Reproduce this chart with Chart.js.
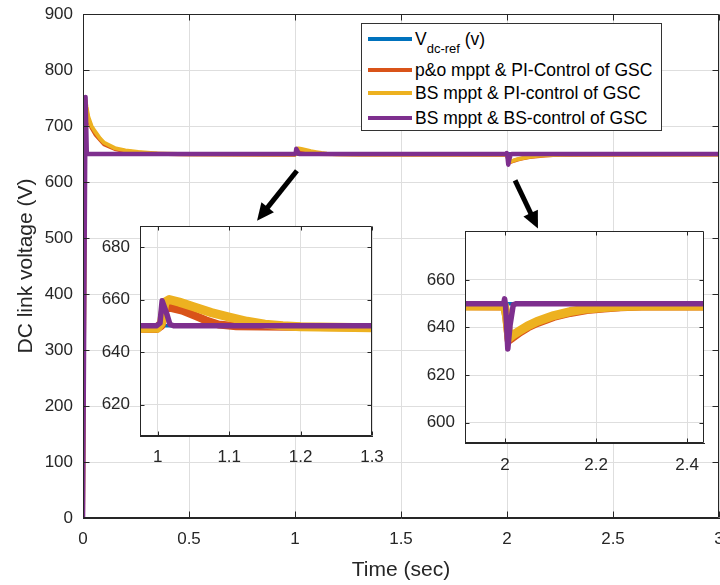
<!DOCTYPE html>
<html>
<head>
<meta charset="utf-8">
<title>DC link voltage</title>
<script src="https://cdn.jsdelivr.net/npm/chart.js@4.4.0/dist/chart.umd.min.js"></script>
<style>
  html, body { margin: 0; padding: 0; background: #fff; }
  #wrap { position: relative; width: 720px; height: 585px; overflow: hidden; font-family: "Liberation Sans", Arial, sans-serif; }
  #main { position: absolute; left: 0; top: 0; }
  #inset1 { position: absolute; left: 90px; top: 214px; }
  #inset2 { position: absolute; left: 415px; top: 219px; }
  #legend { position: absolute; left: 361px; top: 23px; width: 301px; height: 108px; box-sizing: border-box;
            border: 1px solid #333; background: #fff; color: #000; font-size: 17.5px; }
  #legend .swatch { position: absolute; left: 6px; width: 44px; height: 4px; }
  #legend .text { position: absolute; left: 53px; height: 20px; line-height: 20px; white-space: nowrap; }
  #legend .sub { font-size: 13px; position: relative; top: 8px; }
</style>
</head>
<body>
<div id="wrap">
  <canvas id="main" width="740" height="585"></canvas>
  <canvas id="inset1" width="296" height="258"></canvas>
  <canvas id="inset2" width="303" height="260"></canvas>
  <div id="legend">
    <div class="swatch" style="top:13px;background:#0072BD"></div>
    <div class="text" style="top:5px">V<span class="sub">dc-ref</span> (v)</div>
    <div class="swatch" style="top:44px;background:#D95319"></div>
    <div class="text" style="top:36px">p&amp;o mppt &amp; PI-Control of GSC</div>
    <div class="swatch" style="top:67px;background:#EDB120"></div>
    <div class="text" style="top:59px">BS mppt &amp; PI-control of GSC</div>
    <div class="swatch" style="top:92px;background:#7E2F8E"></div>
    <div class="text" style="top:84px">BS mppt &amp; BS-control of GSC</div>
  </div>
</div>
<script>
// series (time in sec, voltage in V)
const refTime = [0, 3];
const refVolt = [650, 650];

const poTime = [0, 0.011, 0.016, 0.025, 0.04, 0.06, 0.1, 0.15, 0.2, 0.3, 0.45,
  0.999, 1.005, 1.011, 1.015, 1.034, 1.053, 1.067, 1.085, 1.11, 1.3,
  1.999, 2.003, 2.008, 2.015, 2.033, 2.05, 2.07, 2.107, 2.143, 2.18, 2.217, 2.254, 2.3, 3];
const poVolt = [0, 745, 728, 712, 697, 684, 667, 659, 655, 651, 649.5,
  648.8, 650, 656.5, 657, 655.8, 653.7, 652.1, 650.5, 649.8, 649.3,
  648.8, 644, 634.5, 635.5, 638, 640, 641.8, 644.4, 646.1, 647.3, 648, 648.5, 648.8, 649];

const bsPiTime = [0, 0.011, 0.016, 0.025, 0.04, 0.055, 0.08, 0.1, 0.15, 0.2, 0.26, 0.35, 0.5,
  0.999, 1.005, 1.01, 1.016, 1.03, 1.05, 1.075, 1.1, 1.125, 1.15, 1.175, 1.2, 1.3,
  1.999, 2.003, 2.009, 2.015, 2.033, 2.05, 2.07, 2.107, 2.143, 2.18, 2.217, 2.254, 2.3, 3];
const bsPiVolt = [0, 748, 735, 716, 700, 691, 678, 670, 660.5, 656.5, 653.5, 651, 649.5,
  649, 651, 659, 660, 659, 657.2, 655, 653.3, 651.7, 650.6, 650, 649.6, 649.2,
  649, 645, 635.5, 636.5, 638.7, 640.7, 642.5, 645, 646.7, 647.8, 648.4, 648.8, 649, 649.2];

const bsBsTime = [0, 0.012, 0.018, 0.998, 1.003, 1.006, 1.012, 1.017, 1.022,
  1.997, 1.999, 2.001, 2.006, 2.011, 2.018, 2.025, 3];
const bsBsVolt = [0, 752, 650, 650, 651, 659.5, 655, 650.5, 650,
  650, 652, 649.5, 631, 641, 649.5, 650, 650];

const seriesLabels = ["Vdc-ref (v)", "p&o mppt & PI-Control of GSC", "BS mppt & PI-control of GSC", "BS mppt & BS-control of GSC"];

// tick values
const mainXTicks = [0, 0.5, 1, 1.5, 2, 2.5, 3];
const mainYTicks = [0, 100, 200, 300, 400, 500, 600, 700, 800, 900];
const inset1XTicks = [1, 1.1, 1.2, 1.3];
const inset1YTicks = [620, 640, 660, 680];
const inset2XTicks = [2, 2.2, 2.4];
const inset2YTicks = [600, 620, 640, 660];

// arrows pointing at the zoomed regions, in data units of the main axes
const arrowNotes = [
  { from: [1.009, 620], to: [0.821, 531] },
  { from: [2.038, 603], to: [2.146, 517] },
];

const colors = ["#0072BD", "#D95319", "#EDB120", "#7E2F8E"];
const axisColor = "#262626";
const gridColor = "#dedede";

Chart.defaults.font.family = '"Liberation Sans", Arial, sans-serif';
Chart.defaults.color = axisColor;

const pairs = (ts, vs) => ts.map((t, i) => ({ x: t, y: vs[i] }));

function makeDatasets(widths) {
  const all = [[refTime, refVolt], [poTime, poVolt], [bsPiTime, bsPiVolt], [bsBsTime, bsBsVolt]];
  return all.map(([ts, vs], i) => ({
    label: seriesLabels[i],
    data: pairs(ts, vs),
    borderColor: colors[i],
    backgroundColor: colors[i],
    borderWidth: widths[i],
    borderJoinStyle: "round",
    borderCapStyle: "round",
    pointRadius: 0,
    tension: 0,
    order: 4 - i, // later series drawn on top, like matlab
  }));
}

// white plot box, frame and inward ticks (matlab look)
const boxPlugin = {
  id: "matlabBox",
  beforeDraw(chart, args, opts) {
    if (!opts.fill) return;
    const { ctx, chartArea: a } = chart;
    ctx.save();
    ctx.fillStyle = "#fff";
    ctx.fillRect(a.left, a.top, a.right - a.left, a.bottom - a.top);
    ctx.restore();
  },
  afterDraw(chart, args, opts) {
    const { ctx, chartArea: a, scales } = chart;
    const len = opts.tickLength || 5;
    const L = Math.round(a.left) + 0.5, R = Math.round(a.right) - 0.5;
    const T = Math.round(a.top) + 0.5, B = Math.round(a.bottom) - 0.5;
    ctx.save();
    ctx.strokeStyle = axisColor;
    ctx.lineWidth = 1;
    ctx.beginPath();
    scales.x.ticks.forEach((t) => {
      const p = Math.round(scales.x.getPixelForValue(t.value)) + 0.5;
      ctx.moveTo(p, B); ctx.lineTo(p, B - len);
      ctx.moveTo(p, T); ctx.lineTo(p, T + len);
    });
    scales.y.ticks.forEach((t) => {
      const p = Math.round(scales.y.getPixelForValue(t.value)) + 0.5;
      ctx.moveTo(L, p); ctx.lineTo(L + len, p);
      ctx.moveTo(R, p); ctx.lineTo(R - len, p);
    });
    ctx.rect(L, T, R - L, B - T);
    ctx.stroke();
    ctx.restore();
  },
};

const arrowPlugin = {
  id: "arrows",
  afterDatasetsDraw(chart) {
    const { ctx, scales: { x, y } } = chart;
    ctx.save();
    ctx.strokeStyle = "#000";
    ctx.fillStyle = "#000";
    arrowNotes.forEach((n) => {
      const x0 = x.getPixelForValue(n.from[0]), y0 = y.getPixelForValue(n.from[1]);
      const x1 = x.getPixelForValue(n.to[0]), y1 = y.getPixelForValue(n.to[1]);
      const ang = Math.atan2(y1 - y0, x1 - x0);
      const head = 17, half = 8;
      const bx = x1 - head * Math.cos(ang), by = y1 - head * Math.sin(ang);
      ctx.lineWidth = 5;
      ctx.beginPath();
      ctx.moveTo(x0, y0);
      ctx.lineTo(bx + Math.cos(ang), by + Math.sin(ang));
      ctx.stroke();
      ctx.beginPath();
      ctx.moveTo(x1, y1);
      ctx.lineTo(bx + half * Math.sin(ang), by - half * Math.cos(ang));
      ctx.lineTo(bx - half * Math.sin(ang), by + half * Math.cos(ang));
      ctx.closePath();
      ctx.fill();
    });
    ctx.restore();
  },
};

function scaleOpts(min, max, ticks, size, padding, title) {
  return {
    type: "linear",
    min: min,
    max: max,
    afterBuildTicks: (s) => { s.ticks = ticks.map((v) => ({ value: v })); },
    afterFit: (s) => {
      if (s.isHorizontal()) s.height = size; else s.width = size;
      // the layout padding below already leaves room for edge labels
      s.paddingTop = s.paddingBottom = s.paddingLeft = s.paddingRight = 0;
    },
    ticks: {
      autoSkip: false,
      maxRotation: 0,
      padding: padding,
      color: axisColor,
      font: { size: 17 },
      callback: (v) => String(v),
    },
    grid: { color: gridColor, drawTicks: false },
    border: { color: axisColor },
    title: title || { display: false },
  };
}

function makeChart(id, cfg) {
  return new Chart(document.getElementById(id), {
    type: "line",
    data: { datasets: makeDatasets(cfg.widths) },
    options: {
      responsive: false,
      animation: false,
      layout: { padding: cfg.padding },
      plugins: {
        legend: { display: false },
        tooltip: { enabled: false },
        matlabBox: { fill: cfg.fill, tickLength: cfg.tickLength },
      },
      scales: { x: cfg.x, y: cfg.y },
    },
    plugins: cfg.withArrows ? [boxPlugin, arrowPlugin] : [boxPlugin],
  });
}

// main axes (right edge of the figure is cut off, like the original)
makeChart("main", {
  widths: [4, 4, 4, 4.5],
  padding: { top: 14, right: 21, left: 0, bottom: 0 },
  fill: false,
  tickLength: 6,
  withArrows: true,
  x: scaleOpts(0, 3, mainXTicks, 67, 11, {
    display: true, text: "Time (sec)", color: axisColor,
    font: { size: 21 }, padding: { top: 0, bottom: 2 },
  }),
  y: scaleOpts(0, 900, mainYTicks, 83, 10, {
    display: true, text: "DC link voltage (V)", color: axisColor,
    font: { size: 21 }, padding: { top: 14, bottom: 0 },
  }),
});

// zoom around the t = 1 s step
makeChart("inset1", {
  widths: [3.5, 8, 9, 5.5],
  padding: { top: 12, right: 14, left: 0, bottom: 0 },
  fill: true,
  tickLength: 4,
  x: scaleOpts(0.975, 1.3, inset1XTicks, 36, 11),
  y: scaleOpts(608, 688, inset1YTicks, 50, 10),
});

// zoom around the t = 2 s step
makeChart("inset2", {
  widths: [3.5, 8, 9, 5.5],
  padding: { top: 12, right: 14, left: 0, bottom: 0 },
  fill: true,
  tickLength: 4,
  x: scaleOpts(1.912, 2.437, inset2XTicks, 36, 12),
  y: scaleOpts(591.5, 680.5, inset2YTicks, 50, 10),
});
</script>
</body>
</html>
